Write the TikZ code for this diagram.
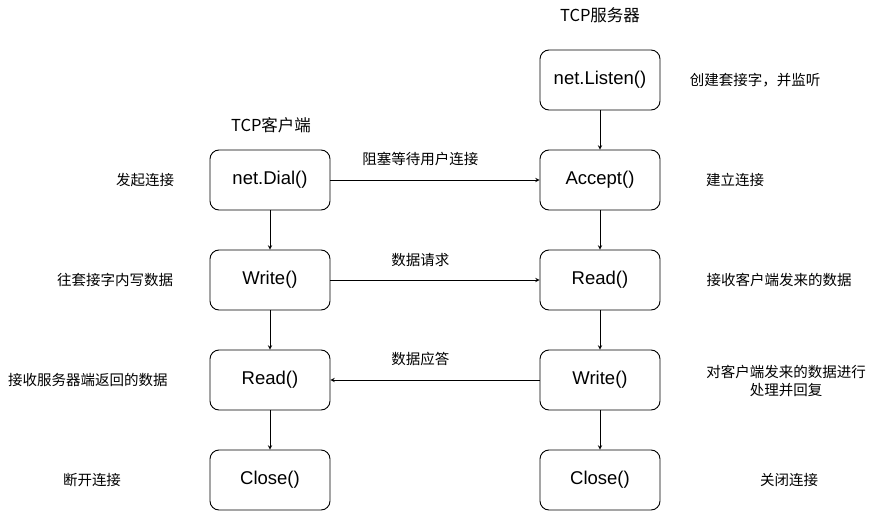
\documentclass[tikz,border=0pt]{standalone}
\usepackage{fontspec}
\setmainfont{Liberation Sans}
\newfontfamily\cjk{Noto Sans CJK SC}
\usetikzlibrary{arrows}

\begin{document}
\begin{tikzpicture}[
            x=1pt, y=1pt,
            node distance=100pt,
            every node/.style={text centered, font=\fontsize{14.5}{18}\selectfont\cjk},
            func/.style={rectangle, rounded corners=9pt, draw=black, line width=0.9pt, fill=white, minimum width=120pt, minimum height=60pt, font=\fontsize{18.5}{20}\selectfont},
            note/.style={align=center},
            title/.style={font=\fontsize{16.5}{20}\selectfont\cjk}
        ]
            \useasboundingbox (0,0) rectangle (876,-511);

            % Titles
            \node (server) [title] at (600,-15) {TCP服务器};
            \node (client) [title] at (271,-125) {TCP客户端};

            % Server
            \node (listen) [func] at (600,-80) {net.Listen()};
            \node (accept) [func, below of=listen] {Accept()};
            \node (sread) [func, below of=accept] {Read()};
            \node (swrite) [func, below of=sread] {Write()};
            \node (sclose) [func, below of=swrite] {Close()};

            % Client
            \node (dial) [func] at (270,-180) {net.Dial()};
            \node (cwrite) [func, below of=dial] {Write()};
            \node (cread) [func, below of=cwrite] {Read()};
            \node (cclose) [func, below of=cread] {Close()};

            % Notes
            \node (nlisten) [note] at (755,-80) {创建套接字，并监听};
            \node (naccept) [note] at (735,-180) {建立连接};
            \node (nsread) [note] at (779,-280) {接收客户端发来的数据};
            \node (nswrite) [note, text width=175pt] at (786,-381) {对客户端发来的数据进行\\处理并回复};
            \node (nsclose) [note] at (789,-480) {关闭连接};
            \node (ndial) [note] at (145,-180) {发起连接};
            \node (ncwrite) [note] at (115,-280) {往套接字内写数据};
            \node (ncread) [note] at (88,-380) {接收服务器端返回的数据};
            \node (ncclose) [note] at (92,-480) {断开连接};

            % Arrows
            \draw [->, >=stealth, line width=0.9pt] (listen) -- (accept);
            \draw [->, >=stealth, line width=0.9pt] (accept) -- (sread);
            \draw [->, >=stealth, line width=0.9pt] (sread) -- (swrite);
            \draw [->, >=stealth, line width=0.9pt] (swrite) -- (sclose);
            \draw [->, >=stealth, line width=0.9pt] (dial) -- (cwrite);
            \draw [->, >=stealth, line width=0.9pt] (cwrite) -- (cread);
            \draw [->, >=stealth, line width=0.9pt] (cread) -- (cclose);
            \draw [->, >=stealth, line width=0.9pt] (dial) -- node (lconn) [pos=0.43, above=10pt] {阻塞等待用户连接} (accept);
            \draw [->, >=stealth, line width=0.9pt] (cwrite) -- node (lreq) [pos=0.43, above=10pt] {数据请求} (sread);
            \draw [->, >=stealth, line width=0.9pt] (swrite) -- node (lans) [pos=0.57, above=10pt] {数据应答} (cread);
        \end{tikzpicture}
\end{document}
